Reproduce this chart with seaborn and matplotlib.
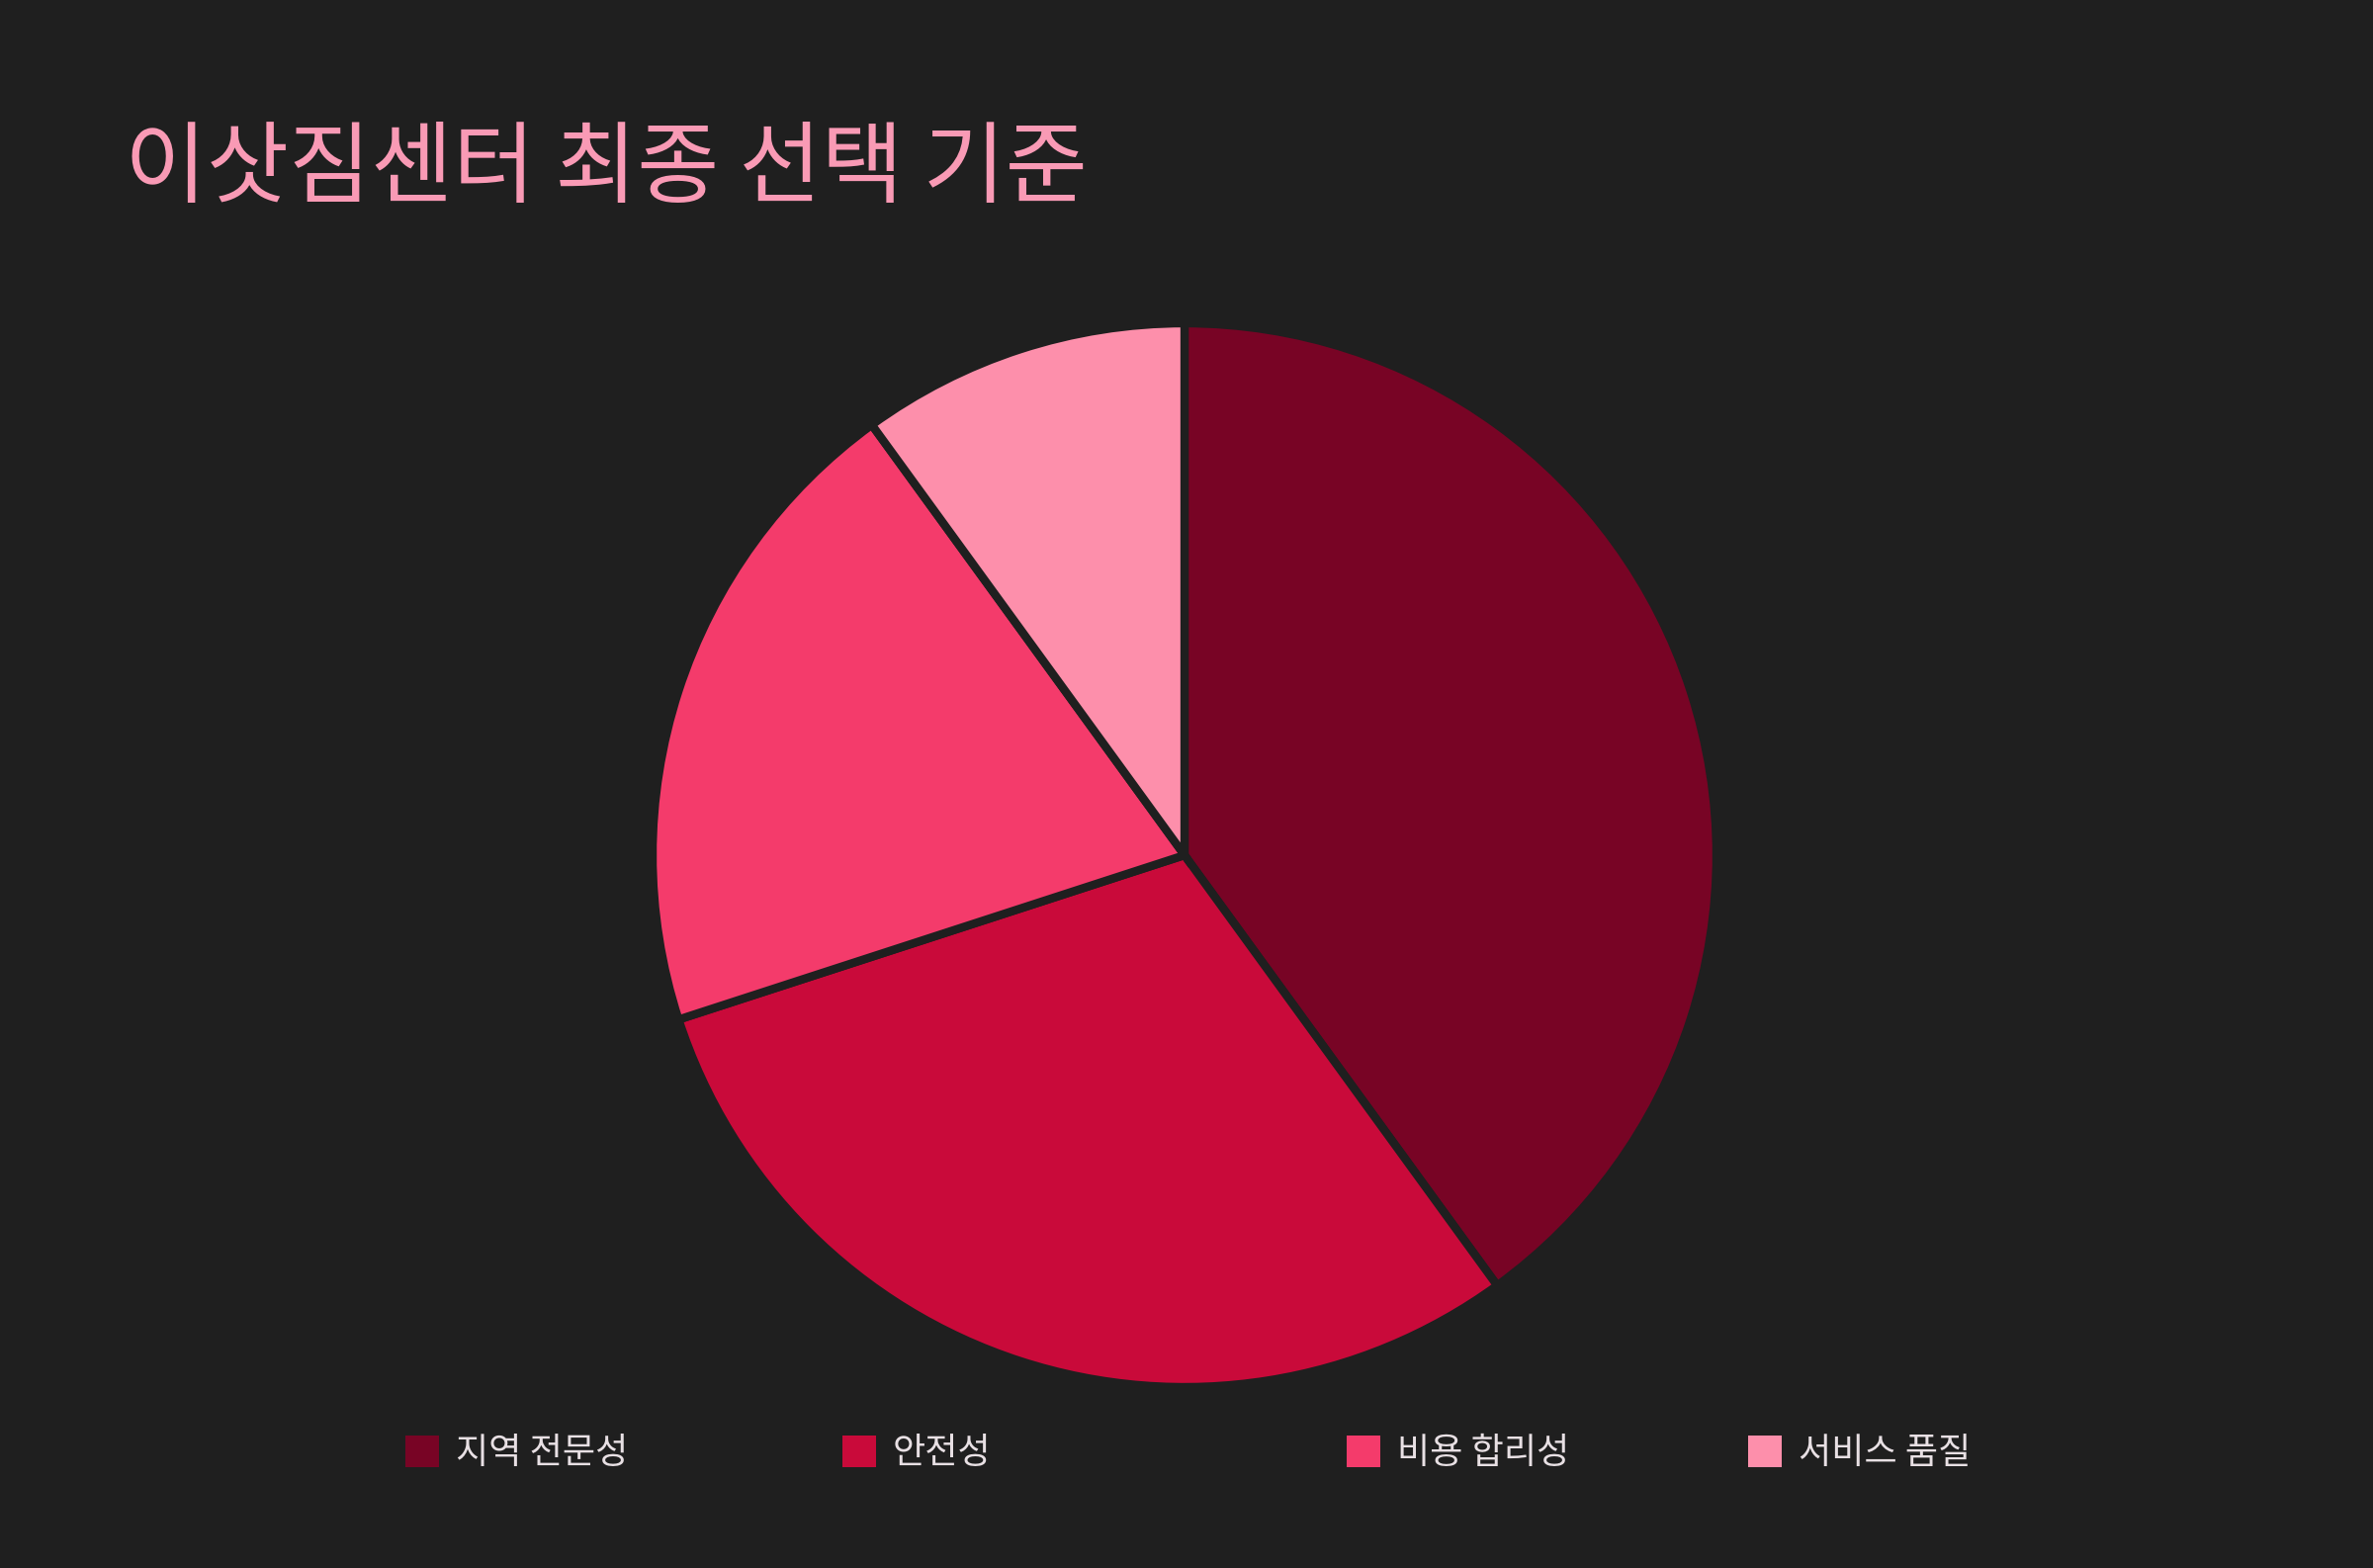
import matplotlib
matplotlib.use("Agg")
import matplotlib.pyplot as plt
import seaborn as sns

# 데이터
categories = ["지역 전문성", "안전성", "비용 합리성", "서비스 품질"]
values = [40, 30, 20, 10]
colors = ["#780425", "#C90A3A", "#F43B6B", "#FD8FAB"]
title = "이삿짐센터 최종 선택 기준"

BG = "#1F1F1F"

sns.set_theme(style="dark")
plt.rcParams["font.family"] = ["Noto Sans CJK KR", "DejaVu Sans"]

fig = plt.figure(figsize=(24, 15.86), dpi=100, facecolor=BG)
ax = fig.add_axes([(1198 - 540) / 2400, 1 - (865 + 540) / 1586, 1080 / 2400, 1080 / 1586])
ax.set_facecolor(BG)

wedges, _ = ax.pie(values, colors=colors, startangle=90, counterclock=False,
                   radius=538 / 540,
                   wedgeprops=dict(edgecolor=BG, linewidth=6))
ax.set_xlim(-1, 1)
ax.set_ylim(-1, 1)
ax.set_aspect("equal")
ax.axis("off")

fig.text(126 / 2400, 1 - 198 / 1586, title, color="#F99AB5", fontsize=65,
         ha="left", va="baseline")

# 범례 (항목별 위치)
legend_x = [410, 852, 1362, 1768]
for w, lab, x in zip(wedges, categories, legend_x):
    leg = fig.legend([w], [lab], loc="center left",
                     bbox_to_anchor=(x / 2400, 1 - 1470 / 1586),
                     frameon=False, fontsize=26, labelcolor="#E8E0E4",
                     handlelength=0.95, handleheight=1.0, handletextpad=0.45,
                     borderpad=0, borderaxespad=0)
    for h in leg.legend_handles:
        h.set_edgecolor(BG)
        h.set_linewidth(0)

fig.savefig("out.png", dpi=100, facecolor=BG)
